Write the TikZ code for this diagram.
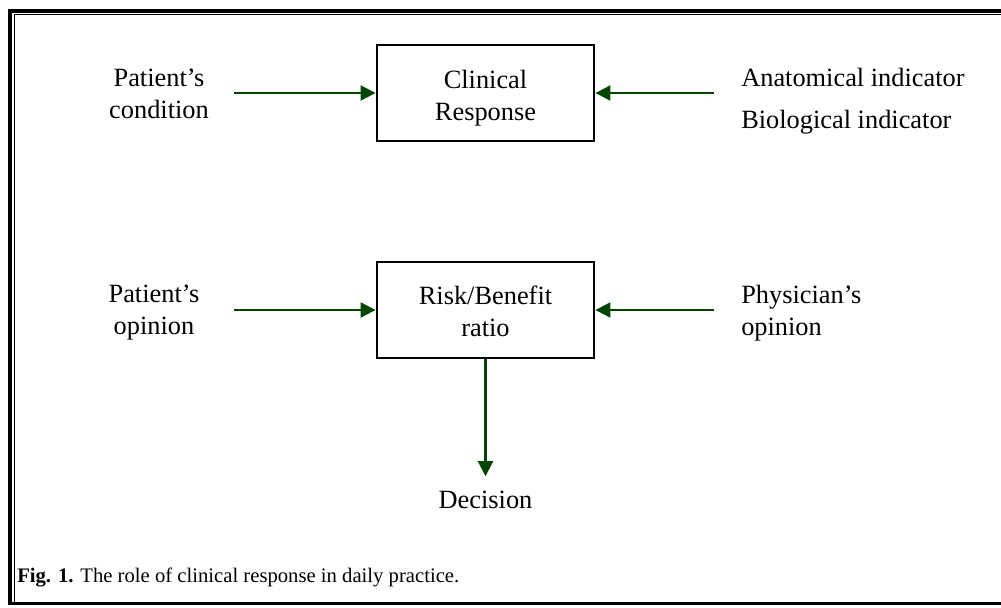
\documentclass[tikz,border=0pt]{standalone}
\usepackage{fontspec}
\setmainfont{Liberation Serif}
\usetikzlibrary{arrows.meta}
\definecolor{arrowgreen}{RGB}{0,70,0}

\begin{document}
\begin{tikzpicture}[x=0.025cm, y=-0.025cm, font=\fontsize{18.75pt}{22.8pt}\selectfont,
  blockbox/.style={draw, line width=2pt, minimum width=5.425cm, minimum height=2.4cm},
  boxtext/.style={align=center, inner sep=0pt},
  sidetext/.style={inner sep=0pt},
  flow/.style={-{Triangle[length=10.7pt, width=10.7pt]}, draw=arrowgreen, line width=1.5pt}]
\useasboundingbox (0,0) rectangle (1001,607);
% frame
\draw[line width=2.85pt] (10,605) -- (10,10.8) -- (1001,10.8);
\draw[line width=0.95pt] (14.7,604) -- (14.7,14.8) -- (1001,14.8);
\draw[line width=1.8pt] (8,603.5) -- (1001,603.5);
% boxes
\node[blockbox] (cr) at (485.5,93) {};
\node[boxtext] (crtext) at (485.5,98) {Clinical\\Response};
\node[blockbox] (rb) at (485.5,310) {};
\node[boxtext] (rbtext) at (485.5,311) {Risk/Benefit\\ratio};
% labels
\node[sidetext, align=center] (pc) at (159,94) {Patient’s\\condition};
\node[sidetext, align=left, anchor=west, font=\fontsize{18.75pt}{29.9pt}\selectfont] (ind) at (741,101) {Anatomical indicator\\Biological indicator};
\node[sidetext, align=center] (po) at (154,313) {Patient’s\\opinion};
\node[sidetext, align=left, anchor=west] (ph) at (741,313) {Physician’s\\opinion};
\node[sidetext] (dec) at (485.5,500) {Decision};
\node[sidetext, anchor=base west, font=\fontsize{14.7pt}{17pt}\selectfont] (cap) at (17,582) {\textbf{Fig. 1.} The role of clinical response in daily practice.};
% arrows
\draw[flow, shorten <=17.8pt] (pc.east |- cr.west) -- (cr.west);
\draw[flow, shorten <=19.2pt] (ind.west |- cr.east) -- (cr.east);
\draw[flow, shorten <=24.2pt] (po.east |- rb.west) -- (rb.west);
\draw[flow, shorten <=19.2pt] (ph.west |- rb.east) -- (rb.east);
\draw[flow, shorten >=10.4pt] (rb.south) -- (rb.south |- dec.north);
\end{tikzpicture}
\end{document}
